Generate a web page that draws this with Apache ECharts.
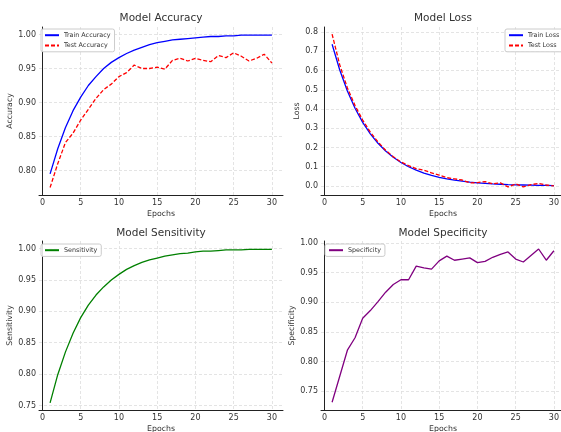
<!DOCTYPE html>
<html>
<head>
<meta charset="utf-8">
<script src="https://cdn.jsdelivr.net/npm/echarts@6/dist/echarts.min.js"></script>
<style>
  html, body { margin: 0; padding: 0; background: #fff; }
  #chart { width: 561px; height: 432px; }
</style>
</head>
<body>
<div id="chart"></div>
<script>
var chart = echarts.init(document.getElementById('chart'));

var epochs = [1, 2, 3, 4, 5, 6, 7, 8, 9, 10, 11, 12, 13, 14, 15, 16, 17, 18, 19, 20, 21, 22, 23, 24, 25, 26, 27, 28, 29, 30];

var trainAcc = [0.795, 0.832, 0.863, 0.888, 0.908, 0.925, 0.938, 0.950, 0.959, 0.966, 0.972, 0.977, 0.981, 0.985, 0.988,
    0.990, 0.992, 0.993, 0.994, 0.995, 0.996, 0.997, 0.997, 0.998, 0.998, 0.999, 0.999, 0.999, 0.999, 0.999];
var testAcc = [0.775, 0.810, 0.841, 0.855, 0.874, 0.890, 0.906, 0.919, 0.927, 0.938, 0.944, 0.955, 0.950, 0.950, 0.952,
    0.949, 0.962, 0.965, 0.961, 0.965, 0.962, 0.960, 0.969, 0.966, 0.973, 0.968, 0.961, 0.965, 0.971, 0.958];

var trainLoss = [0.737, 0.603, 0.494, 0.404, 0.331, 0.271, 0.222, 0.182, 0.149, 0.122, 0.100, 0.082, 0.067, 0.055, 0.045,
    0.037, 0.030, 0.025, 0.020, 0.016, 0.014, 0.011, 0.009, 0.007, 0.006, 0.005, 0.004, 0.003, 0.003, 0.002];
var testLoss = [0.790, 0.630, 0.510, 0.418, 0.343, 0.280, 0.229, 0.186, 0.152, 0.125, 0.106, 0.090, 0.082, 0.068, 0.056,
    0.043, 0.037, 0.031, 0.016, 0.017, 0.023, 0.011, 0.016, -0.005, 0.011, -0.005, 0.007, 0.013, 0.005, 0.000];

var sensitivity = [0.754, 0.799, 0.835, 0.865, 0.890, 0.910, 0.926, 0.939, 0.950, 0.959, 0.967, 0.973, 0.978, 0.982, 0.985,
    0.988, 0.990, 0.992, 0.993, 0.995, 0.996, 0.996, 0.997, 0.998, 0.998, 0.998, 0.999, 0.999, 0.999, 0.999];
var specificity = [0.731, 0.775, 0.819, 0.840, 0.873, 0.886, 0.901, 0.917, 0.930, 0.938, 0.938, 0.961, 0.958, 0.956, 0.970,
    0.978, 0.971, 0.973, 0.975, 0.967, 0.969, 0.976, 0.981, 0.985, 0.973, 0.968, 0.979, 0.990, 0.971, 0.987];

var xTicks = [0, 5, 10, 15, 20, 25, 30];
var accTicks = [0.80, 0.85, 0.90, 0.95, 1.00];
var lossTicks = [0.0, 0.1, 0.2, 0.3, 0.4, 0.5, 0.6, 0.7, 0.8];
var sensTicks = [0.75, 0.80, 0.85, 0.90, 0.95, 1.00];
var specTicks = [0.75, 0.80, 0.85, 0.90, 0.95, 1.00];

var font = 'DejaVu Sans';

function pairs(values) {
    return values.map(function (v, i) { return [epochs[i], v]; });
}

function xAxisFor(idx) {
    return {
        type: 'value', gridIndex: idx, min: -0.45, max: 31.45,
        name: 'Epochs', nameLocation: 'middle', nameGap: 15,
        nameTextStyle: { fontFamily: font, fontSize: 7.8, color: '#333' },
        axisLine: { show: true, onZero: false, lineStyle: { color: '#222', width: 1 } },
        axisTick: { show: false, customValues: xTicks },
        axisLabel: { customValues: xTicks, margin: 4, fontFamily: font, fontSize: 8, color: '#333' },
        splitLine: { show: true, lineStyle: { color: '#ddd', width: 0.8, type: [3, 2] } }
    };
}

function yAxisFor(idx, name, min, max, ticks, digits, gap) {
    return {
        type: 'value', gridIndex: idx, min: min, max: max,
        name: name, nameLocation: 'middle', nameGap: gap, nameRotate: 90,
        nameTextStyle: { fontFamily: font, fontSize: 7.8, color: '#333' },
        axisLine: { show: true, lineStyle: { color: '#222', width: 1 } },
        axisTick: { show: false, customValues: ticks },
        axisLabel: {
            customValues: ticks, margin: 3, fontFamily: font, fontSize: 8, color: '#333',
            formatter: function (v) { return v.toFixed(digits); }
        },
        splitLine: { show: true, lineStyle: { color: '#ddd', width: 0.8, type: [3, 2] } }
    };
}

function titleFor(text, x, y) {
    return {
        text: text, left: x, top: y, textAlign: 'center', padding: 0,
        textStyle: { fontFamily: font, fontSize: 10.5, fontWeight: 'normal', color: '#333' }
    };
}

function legendFor(names, x, y) {
    return {
        data: names, orient: 'vertical', left: x, top: y,
        itemWidth: 14, itemHeight: 8, itemGap: 4, padding: [3, 4, 3, 3],
        borderColor: '#ccc', borderWidth: 1, borderRadius: 2, backgroundColor: 'rgba(255,255,255,0.85)',
        itemStyle: { opacity: 0, borderWidth: 0 },
        textStyle: { fontFamily: font, fontSize: 6.4, color: '#333' }
    };
}

function lineSeries(name, idx, values, color, dashed) {
    return {
        name: name, type: 'line', xAxisIndex: idx, yAxisIndex: idx,
        data: pairs(values), symbol: 'none', smooth: false,
        lineStyle: { color: color, width: 1.3, type: dashed ? [4, 2] : 'solid' },
        itemStyle: { color: color }
    };
}

var option = {
    animation: false,
    backgroundColor: '#fff',
    title: [
        titleFor('Model Accuracy', 161, 13),
        titleFor('Model Loss', 443, 13),
        titleFor('Model Sensitivity', 161, 228),
        titleFor('Model Specificity', 443, 228)
    ],
    legend: [
        legendFor(['Train Accuracy', 'Test Accuracy'], 41, 29),
        legendFor(['Train Loss', 'Test Loss'], 505, 29),
        legendFor(['Sensitivity'], 41, 244),
        legendFor(['Specificity'], 325, 244)
    ],
    grid: [
        { left: 39, top: 27, width: 244, height: 168, outerBoundsMode: 'none' },
        { left: 321, top: 27, width: 244, height: 168, outerBoundsMode: 'none' },
        { left: 39, top: 241, width: 244, height: 169, outerBoundsMode: 'none' },
        { left: 321, top: 241, width: 244, height: 169, outerBoundsMode: 'none' }
    ],
    xAxis: [xAxisFor(0), xAxisFor(1), xAxisFor(2), xAxisFor(3)],
    yAxis: [
        yAxisFor(0, 'Accuracy', 0.764, 1.011, accTicks, 2, 21),
        yAxisFor(1, 'Loss', -0.047, 0.827, lossTicks, 1, 14),
        yAxisFor(2, 'Sensitivity', 0.7427, 1.0122, sensTicks, 2, 21),
        yAxisFor(3, 'Specificity', 0.718, 1.0035, specTicks, 2, 20)
    ],
    series: [
        lineSeries('Train Accuracy', 0, trainAcc, '#0000ff', false),
        lineSeries('Test Accuracy', 0, testAcc, '#ff0000', true),
        lineSeries('Train Loss', 1, trainLoss, '#0000ff', false),
        lineSeries('Test Loss', 1, testLoss, '#ff0000', true),
        lineSeries('Sensitivity', 2, sensitivity, '#008000', false),
        lineSeries('Specificity', 3, specificity, '#800080', false)
    ]
};

chart.setOption(option);
</script>
</body>
</html>
